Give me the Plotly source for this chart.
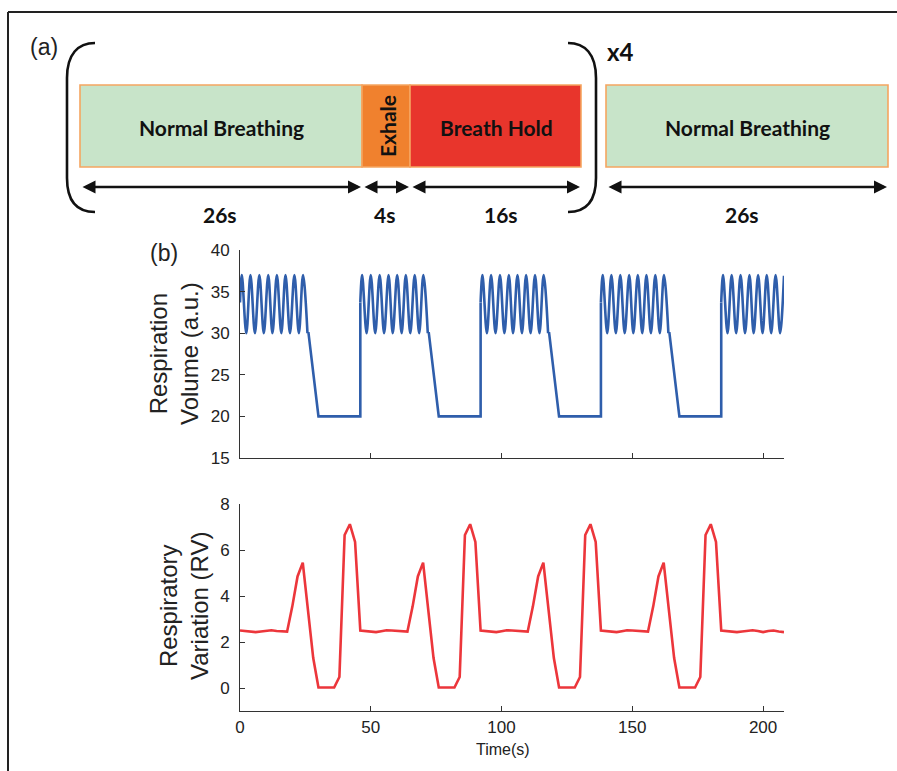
import plotly.graph_objects as go

# ---------------- data ----------------
# Respiration volume: oscillation key points (peaks / troughs) per normal-breathing segment
VOL_OSC_T = [
    0.0, 0.7, 2.4, 4.0, 5.7, 7.4, 9.1, 10.8, 12.4, 14.1, 15.8, 17.4, 19.1, 20.8, 22.5, 24.1, 25.8, None,
    46.0, 46.7, 48.4, 50.0, 51.7, 53.4, 55.1, 56.8, 58.4, 60.1, 61.8, 63.4, 65.1, 66.8, 68.5, 70.1, 71.8, None,
    92.0, 92.7, 94.4, 96.0, 97.7, 99.4, 101.1, 102.8, 104.4, 106.1, 107.8, 109.4, 111.1, 112.8, 114.5, 116.1, 117.8, None,
    138.0, 138.7, 140.4, 142.0, 143.7, 145.4, 147.1, 148.8, 150.4, 152.1, 153.8, 155.4, 157.1, 158.8, 160.5, 162.1, 163.8, None,
    184.0, 184.7, 186.4, 188.0, 189.7, 191.4, 193.1, 194.8, 196.4, 198.1, 199.8, 201.4, 203.1, 204.8, 206.5, 208.0,
]
VOL_OSC_V = [
    33.7, 37, 30, 37, 30, 37, 30, 37, 30, 37, 30, 37, 30, 37, 30, 37, 30, None,
    33.7, 37, 30, 37, 30, 37, 30, 37, 30, 37, 30, 37, 30, 37, 30, 37, 30, None,
    33.7, 37, 30, 37, 30, 37, 30, 37, 30, 37, 30, 37, 30, 37, 30, 37, 30, None,
    33.7, 37, 30, 37, 30, 37, 30, 37, 30, 37, 30, 37, 30, 37, 30, 37, 30, None,
    33.7, 37, 30, 37, 30, 37, 30, 37, 30, 37, 30, 37, 30, 37, 30, 36.9,
]
# Respiration volume: exhale ramp, breath hold, and re-inhale jump
VOL_STEP_T = [25.8, 26.2, 30.0, 46.0, 46.0, None,
              71.8, 72.2, 76.0, 92.0, 92.0, None,
              117.8, 118.2, 122.0, 138.0, 138.0, None,
              163.8, 164.2, 168.0, 184.0, 184.0]
VOL_STEP_V = [30, 30, 20, 20, 33.7, None,
              30, 30, 20, 20, 33.7, None,
              30, 30, 20, 20, 33.7, None,
              30, 30, 20, 20, 33.7]

# Respiratory variation (sampled every 2 s)
RV_T = [0, 2, 4, 6, 8, 10, 12, 14, 16, 18, 20, 22, 24, 26, 28, 30, 32, 34, 36, 38, 40, 42, 44,
        46, 48, 50, 52, 54, 56, 58, 60, 62, 64, 66, 68, 70, 72, 74, 76, 78, 80, 82, 84, 86, 88, 90,
        92, 94, 96, 98, 100, 102, 104, 106, 108, 110, 112, 114, 116, 118, 120, 122, 124, 126, 128, 130, 132, 134, 136,
        138, 140, 142, 144, 146, 148, 150, 152, 154, 156, 158, 160, 162, 164, 166, 168, 170, 172, 174, 176, 178, 180, 182,
        184, 186, 188, 190, 192, 194, 196, 198, 200, 202, 204, 206, 208]
RV_V = [2.50, 2.48, 2.45, 2.43, 2.46, 2.50, 2.51, 2.48, 2.45, 2.45, 3.55, 4.85, 5.45, 3.38, 1.30, 0.02, 0.02, 0.02, 0.02, 0.48, 6.65, 7.12, 6.35,
        2.50, 2.48, 2.45, 2.43, 2.47, 2.51, 2.50, 2.48, 2.45, 2.45, 3.55, 4.85, 5.45, 3.38, 1.30, 0.02, 0.02, 0.02, 0.02, 0.48, 6.65, 7.12, 6.35,
        2.50, 2.48, 2.45, 2.43, 2.47, 2.51, 2.50, 2.48, 2.45, 2.45, 3.55, 4.85, 5.45, 3.38, 1.30, 0.02, 0.02, 0.02, 0.02, 0.48, 6.65, 7.12, 6.35,
        2.50, 2.48, 2.45, 2.43, 2.47, 2.51, 2.50, 2.48, 2.45, 2.45, 3.55, 4.85, 5.45, 3.38, 1.30, 0.02, 0.02, 0.02, 0.02, 0.48, 6.65, 7.12, 6.35,
        2.50, 2.48, 2.45, 2.43, 2.46, 2.50, 2.51, 2.48, 2.43, 2.48, 2.50, 2.46, 2.43]

X_TICKS = [0, 50, 100, 150, 200]
VOL_TICKS = [15, 20, 25, 30, 35, 40]
RV_TICKS = [0, 2, 4, 6, 8]

PHASE_LABELS = ["Normal Breathing", "Exhale", "Breath Hold", "Normal Breathing"]
PHASE_DURATIONS = ["26s", "4s", "16s", "26s"]
PHASE_COLORS = ["#c8e4c9", "#f0812e", "#e8352c", "#c8e4c9"]

# ---------------- figure ----------------
W, H = 897, 771
BLUE = "#2f5eab"
RED = "#ec363b"
AX = "#333333"
TXT = "#222222"


def fx(px):
    return px / W


def fy(py):
    return 1 - py / H


fig = go.Figure()
fig.add_trace(go.Scatter(x=VOL_OSC_T, y=VOL_OSC_V, mode="lines", xaxis="x", yaxis="y",
                         line=dict(color=BLUE, width=2.6, shape="spline", smoothing=1),
                         connectgaps=False, hoverinfo="skip", showlegend=False))
fig.add_trace(go.Scatter(x=VOL_STEP_T, y=VOL_STEP_V, mode="lines", xaxis="x", yaxis="y",
                         line=dict(color=BLUE, width=2.6), connectgaps=False,
                         hoverinfo="skip", showlegend=False))
fig.add_trace(go.Scatter(x=RV_T, y=RV_V, mode="lines", xaxis="x2", yaxis="y2",
                         line=dict(color=RED, width=2.6), hoverinfo="skip", showlegend=False))

axis_common = dict(showline=True, linecolor=AX, linewidth=1, ticks="inside", ticklen=5,
                   tickcolor=AX, tickwidth=1, showgrid=False, zeroline=False, automargin=False,
                   tickfont=dict(family="Liberation Sans, Arial", size=17, color=TXT))

XD = [fx(240), fx(784)]
fig.update_layout(
    width=W, height=H, autosize=False,
    margin=dict(l=0, r=0, t=0, b=0, pad=0, autoexpand=False),
    paper_bgcolor="white", plot_bgcolor="white",
    xaxis=dict(domain=XD, range=[0, 208], anchor="y", tickvals=X_TICKS,
               showticklabels=False, **axis_common),
    yaxis=dict(domain=[fy(458), fy(250)], range=[15, 40], anchor="x", tickvals=VOL_TICKS,
               ticklabelstandoff=6, **axis_common),
    xaxis2=dict(domain=XD, range=[0, 208], anchor="y2", tickvals=X_TICKS,
                ticklabelstandoff=1, **axis_common),
    yaxis2=dict(domain=[fy(711), fy(504)], range=[-1, 8], anchor="x2", tickvals=RV_TICKS,
                ticklabelstandoff=6, **axis_common),
)

shapes = []
# outer frame (top and left edges)
shapes.append(dict(type="line", xref="paper", yref="paper", x0=fx(8), y0=fy(12), x1=fx(897), y1=fy(12),
                   line=dict(color="#222", width=2)))
shapes.append(dict(type="line", xref="paper", yref="paper", x0=fx(8), y0=fy(12), x1=fx(8), y1=fy(771),
                   line=dict(color="#222", width=2)))


def pathstr(cmds):
    out = []
    for c in cmds:
        if isinstance(c, str):
            out.append(c)
        else:
            out.append(f"{fx(c[0]):.5f},{fy(c[1]):.5f}")
    return " ".join(out)


# brackets
left_br = pathstr(["M", (95, 43), "C", (78, 43), (67, 54), (67, 78), "L", (67, 178), "C", (67, 202), (78, 212), (95, 212)])
right_br = pathstr(["M", (568, 43), "C", (585, 43), (596, 54), (596, 78), "L", (596, 178), "C", (596, 202), (585, 212), (568, 212)])
for p in (left_br, right_br):
    shapes.append(dict(type="path", xref="paper", yref="paper", path=p,
                       line=dict(color="#111", width=2.6)))

# phase boxes
BOX_X = [(80, 362), (362, 410), (410, 581), (606, 888)]
for (x0, x1), col in zip(BOX_X, PHASE_COLORS):
    shapes.append(dict(type="rect", xref="paper", yref="paper", x0=fx(x0), x1=fx(x1), y0=fy(167), y1=fy(85),
                       fillcolor=col, line=dict(color="#f5a560", width=1.6)))

annotations = []
DIAG_FONT = "Lato, Open Sans, sans-serif"
# phase labels
LABEL_POS = [(221, 128, 0), (388, 126, -90), (496, 128, 0), (747, 128, 0)]
for lab, (px, py, ang) in zip(PHASE_LABELS, LABEL_POS):
    annotations.append(dict(text=f"<b>{lab}</b>", x=fx(px), y=fy(py), xref="paper", yref="paper",
                            showarrow=False, textangle=ang, xanchor="center", yanchor="middle",
                            font=dict(family=DIAG_FONT, size=21, color="#111")))
# durations
DUR_POS = [220, 384, 501, 742]
for lab, px in zip(PHASE_DURATIONS, DUR_POS):
    annotations.append(dict(text=f"<b>{lab}</b>", x=fx(px), y=fy(214), xref="paper", yref="paper",
                            showarrow=False, xanchor="center", yanchor="middle",
                            font=dict(family=DIAG_FONT, size=21, color="#111")))
# double arrows
ARROWS = [(81, 361), (363, 409), (411, 580), (607, 887)]
for x0, x1 in ARROWS:
    annotations.append(dict(text="", x=fx(x1), y=fy(187), xref="paper", yref="paper",
                            ax=-(x1 - x0), ay=0, axref="pixel", ayref="pixel",
                            showarrow=True, arrowside="end+start", arrowhead=2, startarrowhead=2,
                            arrowsize=1, startarrowsize=1, arrowwidth=2.6, arrowcolor="#111",
                            standoff=0, startstandoff=0))
# x4
annotations.append(dict(text="<b>x4</b>", x=fx(620), y=fy(52), xref="paper", yref="paper",
                        showarrow=False, xanchor="center", yanchor="middle",
                        font=dict(family=DIAG_FONT, size=24, color="#111")))
# panel labels
for lab, px, py in [("(a)", 44, 47), ("(b)", 164, 253)]:
    annotations.append(dict(text=lab, x=fx(px), y=fy(py), xref="paper", yref="paper",
                            showarrow=False, xanchor="center", yanchor="middle",
                            font=dict(family="Liberation Sans, Arial", size=23, color=TXT)))
# axis titles
AXT = dict(family="Liberation Sans, Arial", size=24, color=TXT)
annotations.append(dict(text="Respiration<br>Volume (a.u.)", x=fx(174), y=fy(354), xref="paper", yref="paper",
                        showarrow=False, textangle=-90, xanchor="center", yanchor="middle", font=AXT))
annotations.append(dict(text="Respiratory<br>Variation (RV)", x=fx(184), y=fy(606), xref="paper", yref="paper",
                        showarrow=False, textangle=-90, xanchor="center", yanchor="middle", font=AXT))
annotations.append(dict(text="Time(s)", x=fx(503), y=fy(749), xref="paper", yref="paper",
                        showarrow=False, xanchor="center", yanchor="middle",
                        font=dict(family="Liberation Sans, Arial", size=16, color=TXT)))

fig.update_layout(shapes=shapes, annotations=annotations)
fig.write_html("out.html")
